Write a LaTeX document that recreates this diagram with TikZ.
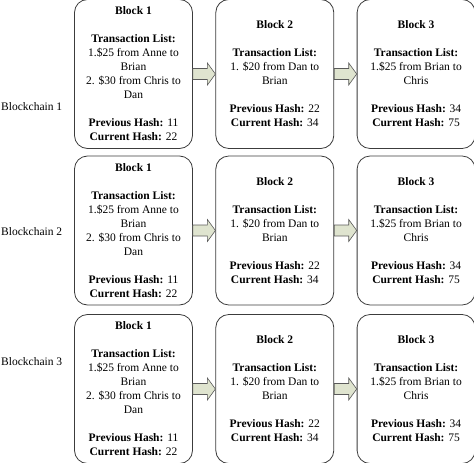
\documentclass[tikz,border=0pt]{standalone}
\usepackage{fontspec}
\setmainfont{Liberation Serif}
\usepackage{tikz}
\usetikzlibrary{
  calc,        % 坐标计算
  positioning  % 节点相对定位
}
\definecolor{arrowfill}{RGB}{223,228,207}
\definecolor{arrowline}{RGB}{90,90,90}
\definecolor{boxline}{RGB}{60,60,60}
\tikzset{
  block/.style={
    draw=boxline,
    line width=0.8pt,
    rounded corners=13pt,
    minimum width=118pt,
    minimum height=149pt,
    inner sep=0pt,
    align=center,
    font=\fontsize{11.5}{14}\selectfont
  },
  chain label/.style={
    anchor=west,
    inner sep=0pt,
    font=\fontsize{11.5}{14}\selectfont
  },
  fat arrow/.style={
    fill=arrowfill,
    draw=arrowline,
    line width=0.6pt,
    line join=miter
  }
}
% 区块内容
\newcommand{\blockone}{\textbf{Block 1}\\[14pt]
  \textbf{Transaction List:}\\1.\$25 from Anne to\\Brian\\2. \$30 from Chris to\\Dan\\[14pt]
  \textbf{Previous Hash:} 11\\\textbf{Current Hash:} 22}
\newcommand{\blocktwo}{\textbf{Block 2}\\[14pt]
  \textbf{Transaction List:}\\1. \$20 from Dan to\\Brian\\[14pt]
  \textbf{Previous Hash:} 22\\\textbf{Current Hash:} 34}
\newcommand{\blockthree}{\textbf{Block 3}\\[14pt]
  \textbf{Transaction List:}\\1.\$25 from Brian to\\Chris\\[14pt]
  \textbf{Previous Hash:} 34\\\textbf{Current Hash:} 75}
% 粗箭头: 从 #1 的右侧到 #2 的左侧
\newcommand{\chainarrow}[2]{
  \draw[fat arrow] let \p1=(#1.east), \p2=(#2.west) in
    (\x1,\y1+5.5pt) -- (\x2-8pt,\y1+5.5pt) -- (\x2-8pt,\y1+11pt) -- (\x2,\y1)
    -- (\x2-8pt,\y1-11pt) -- (\x2-8pt,\y1-5.5pt) -- (\x1,\y1-5.5pt) -- cycle;
}

\begin{document}
\begin{tikzpicture}[x=1pt, y=-1pt]
  \useasboundingbox (0,0) rectangle (474,463);

  % --- 三条区块链 ---
  \foreach \r/\y/\ly in {1/74/107, 2/230.5/232, 3/389/362} {
    \node[block] (b\r1) at (133.5,\y) {\blockone};
    \node[block, right=22.5pt of b\r1] (b\r2) {\blocktwo};
    \node[block, right=22.5pt of b\r2] (b\r3) {\blockthree};
    \node[chain label] (c\r) at (1,\ly) {Blockchain \r};

    % 箭头
    \chainarrow{b\r1}{b\r2}
    \chainarrow{b\r2}{b\r3}
  }
\end{tikzpicture}
\end{document}
